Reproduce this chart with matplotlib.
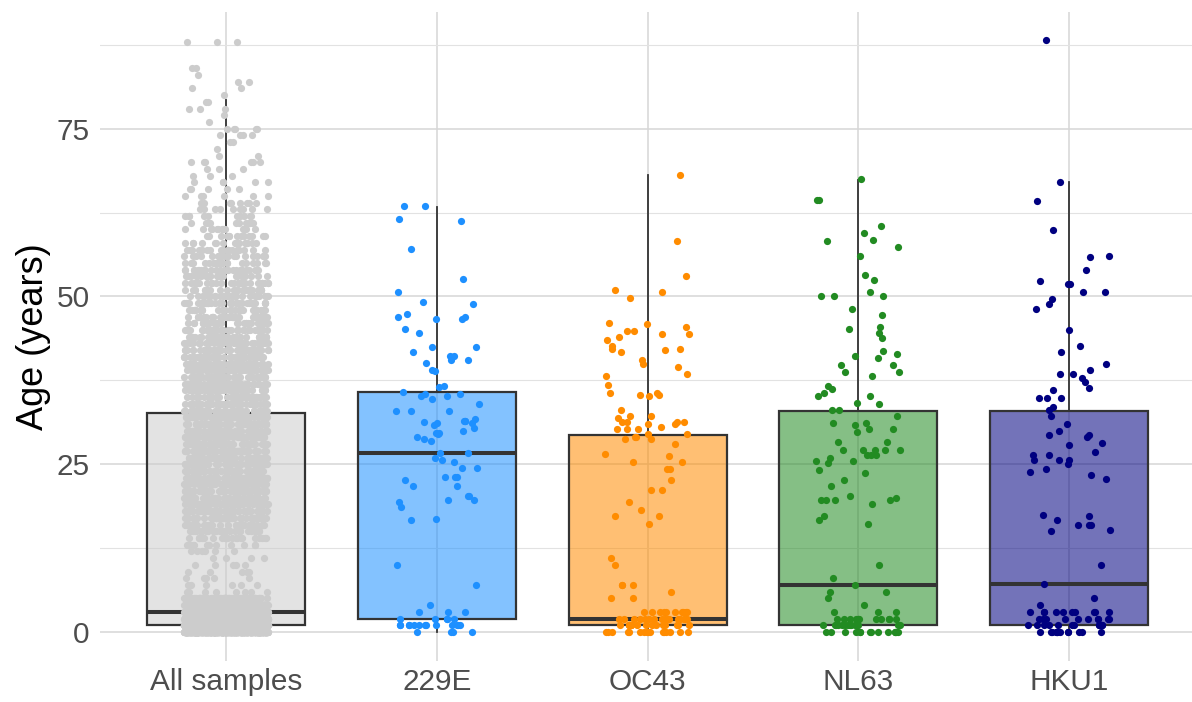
import matplotlib
matplotlib.use("Agg")
import matplotlib.pyplot as plt
import numpy as np

plt.rcParams['font.family'] = ['Liberation Sans', 'DejaVu Sans']

groups = ["All samples", "229E", "OC43", "NL63", "HKU1"]
point_cols = ["#CCCCCC", "#1E90FF", "#FF8C00", "#228B22", "#000080"]

# box stats
q1 = [1.0, 2.0, 1.0, 1.0, 1.0]
med = [3.0, 26.7, 2.0, 7.0, 7.1]
q3 = [32.7, 35.8, 29.3, 33.0, 33.0]
whis_lo = [0, 0, 0, 0, 0]
whis_hi = [79.3, 63.4, 68.1, 67.4, 67.0]

# all samples: number of samples at each age 0..88
all_counts = [700, 650, 520, 380, 170, 80,
              8, 6, 5, 5, 5, 4, 6,
              12, 20, 28, 36, 42,
              46, 48, 50, 52, 51, 50, 49, 51, 52, 50, 49, 48, 50, 51,
              49, 50, 48, 47, 49, 50, 48, 46, 45, 46, 44, 42, 41,
              40, 38, 36, 35, 34,
              32, 30, 28, 26, 24,
              22, 20, 18, 16, 14,
              13, 12, 10, 9, 8,
              6, 5, 5, 3, 3,
              6, 2, 1, 2, 4,
              5, 1, 1, 3, 2,
              1, 2, 2, 1, 2, 0, 0, 0, 3]
all_ages = np.repeat(np.arange(len(all_counts)), all_counts)

age_229e = [63.5, 63.5, 61.5, 61.2, 57.1, 52.6, 50.7, 49.2, 48.9, 47.4, 47.0, 47.0,
            46.6, 46.6, 45.1, 44.5, 42.4, 42.4, 41.7, 41.2, 41.1, 40.5, 40.5, 40.1,
            39.0, 38.9, 36.7, 36.5, 35.8, 35.4, 35.4, 35.1, 35.1, 34.7, 34.0, 33.0,
            33.0, 33.0, 31.7, 31.4, 31.4, 31.4, 31.3, 31.2, 31.2, 30.8, 30.4, 30.0,
            29.7, 29.7, 29.5, 29.1, 28.7, 28.5, 26.6, 26.6, 26.0, 25.7, 25.3, 24.5,
            24.5, 23.1, 23.1, 23.1, 22.7, 21.7, 21.7, 20.2, 20.2, 19.6, 19.6, 19.4,
            18.7, 16.9, 16.7, 10, 7, 4, 3, 3, 3,
            2, 2, 2, 2, 2,
            1, 1, 1, 1, 1, 1, 1, 1, 1, 1, 1, 1, 1,
            0, 0, 0, 0]

age_oc43 = [68.1, 58.2, 53.0, 51.0, 50.7, 49.8, 46.0, 45.9, 45.5, 44.8, 44.8, 44.4,
            44.4, 44.0, 43.5, 42.6, 42.1, 42.1, 42.0, 41.7, 40.5, 39.9, 39.5, 38.5,
            38.1, 36.8, 35.6, 35.6, 35.3, 35.3, 35.2, 33.1, 32.2, 32.2, 31.9,
            31.3, 31.3, 31.3, 31.3, 31.0, 31.0, 30.6, 30.2, 30.2, 30.2, 29.5, 29.5,
            29.1, 29.1, 28.8, 28.8, 28.0, 26.5, 26.2, 25.3, 25.3, 24.3, 24.3, 22.7,
            21.1, 21.1, 19.4, 18.2, 17.3, 17.3, 16.1, 11, 10, 7, 7, 7, 6, 5, 5,
            3, 3, 3, 3, 3, 3, 3, 3, 3, 3,
            2, 2, 2, 2, 2, 2, 2, 2, 2, 2, 2, 2, 2, 2, 2, 2,
            1, 1, 1, 1, 1, 1, 1, 1, 1, 1, 1, 1, 1, 1, 1, 1,
            0, 0, 0, 0, 0, 0, 0, 0, 0, 0, 0, 0, 0, 0, 0, 0]

age_nl63 = [67.5, 64.4, 64.4, 60.5, 59.5, 58.4, 58.2, 57.4, 56.1, 53.2, 52.5, 50.7,
            50.0, 50.0, 50.0, 48.2, 47.3, 45.5, 45.1, 44.5, 43.8, 41.9, 41.4, 41.1,
            40.8, 39.8, 39.8, 38.7, 38.7, 38.1, 36.7, 36.2, 35.6, 35.1, 35.1, 34.1,
            34.0, 33.1, 33.1, 32.2, 31.1, 31.1, 30.8, 30.3, 30.3, 29.8, 28.3, 28.3,
            27.1, 27.1, 27.1, 27.1, 27.1, 26.4, 26.4, 26.4, 26.0, 25.5, 25.5, 25.2,
            24.2, 23.7, 22.7, 21.7, 20.3, 20.0, 19.7, 19.7, 19.7, 19.7, 19.1, 17.3,
            16.7, 16.1, 10, 8, 7, 6, 6, 5, 4, 3, 3, 3,
            2, 2, 2, 2, 2, 2, 2, 2, 2, 2, 2, 2,
            1, 1, 1, 1, 1, 1, 1, 1, 1, 1, 1, 1, 1, 1,
            0, 0, 0, 0, 0, 0, 0, 0, 0, 0, 0, 0, 0, 0]

age_hku1 = [88.2, 67.0, 64.2, 59.9, 56.1, 55.9, 53.9, 52.3, 51.8, 51.8, 50.7, 50.6,
            49.6, 48.9, 48.2, 45.0, 42.6, 41.7, 40.0, 39.0, 38.4, 38.4, 37.8, 37.2,
            36.4, 36.1, 34.9, 34.9, 34.8, 33.5, 33.1, 32.2, 31.0, 29.9, 29.4, 29.4,
            29.0, 28.2, 27.8, 26.8, 26.4, 26.4, 25.6, 25.6, 25.6, 25.1, 24.3, 23.8,
            23.4, 22.8, 17.4, 17.3, 16.7, 16.0, 16.0, 16.0, 15.2, 15.1, 10.0, 7.1,
            5.0, 4.0,
            3, 3, 3, 3, 3, 3, 3, 3, 3, 3,
            2, 2, 2, 2, 2, 2, 2, 2, 2, 2,
            1, 1, 1, 1, 1, 1, 1, 1, 1, 1, 1, 1,
            0, 0, 0, 0, 0, 0, 0, 0, 0, 0, 0, 0]

ages = [all_ages, age_229e, age_oc43, age_nl63, age_hku1]

fig = plt.figure(figsize=(11.92, 7.02), dpi=100)
ax = fig.add_axes([0.0835, 0.0577, 0.9195, 0.9252])

stats = []
for i in range(len(groups)):
    stats.append(dict(med=med[i], q1=q1[i], q3=q3[i],
                      whislo=whis_lo[i], whishi=whis_hi[i], fliers=[]))

bp = ax.bxp(stats, positions=range(1, 6), widths=0.75, patch_artist=True,
            showcaps=False, showfliers=False,
            boxprops=dict(edgecolor="#333333", linewidth=1.6),
            whiskerprops=dict(color="#333333", linewidth=1.3),
            medianprops=dict(color="#333333", linewidth=2.9, solid_capstyle="butt"),
            zorder=2)
for box, col in zip(bp["boxes"], point_cols):
    box.set_facecolor(matplotlib.colors.to_rgba(col, 0.55))

# horizontal jitter like geom_jitter(width = 0.2)
rng = np.random.default_rng(11)
for i, (vals, col) in enumerate(zip(ages, point_cols)):
    vals = np.asarray(vals, dtype=float)
    x = i + 1 + rng.uniform(-0.2, 0.2, len(vals))
    ax.scatter(x, vals, s=27, color=col, linewidths=0, zorder=3)

ax.set_xlim(0.4, 5.6)
ax.set_ylim(-4.4, 92.4)
ax.set_xticks(range(1, 6))
ax.set_xticklabels(groups)
ax.set_yticks([0, 25, 50, 75])
ax.set_yticks([12.5, 37.5, 62.5, 87.5], minor=True)
ax.grid(which="major", color="#D6D6D6", linewidth=1.1, zorder=0)
ax.grid(which="minor", axis="y", color="#E2E2E2", linewidth=0.8, zorder=0)
ax.set_axisbelow(True)
for s in ax.spines.values():
    s.set_visible(False)
ax.tick_params(which="both", length=0, labelsize=21.4, labelcolor="#4D4D4D")
ax.tick_params(axis="y", pad=7)
ax.tick_params(axis="x", pad=5)
ax.set_ylabel("Age (years)", fontsize=26, color="black")
ax.yaxis.set_label_coords(-0.044, 0.5)

fig.savefig("out.png", dpi=100)
